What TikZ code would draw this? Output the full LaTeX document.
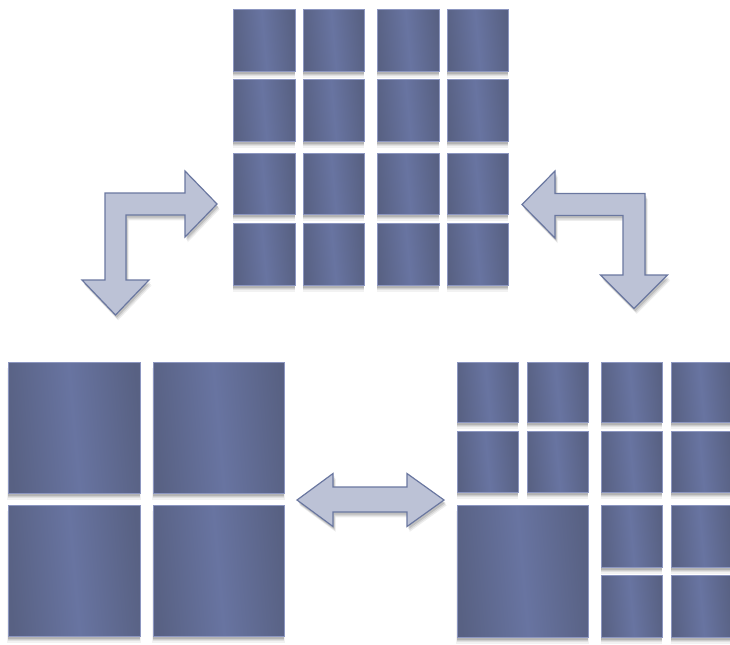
\documentclass[tikz,border=0pt]{standalone}
\usetikzlibrary{shadows}
\definecolor{tdark}{RGB}{88,97,131}
\definecolor{tlight}{RGB}{104,116,161}
\definecolor{tborder}{RGB}{140,150,192}
\definecolor{afill}{RGB}{188,194,214}
\definecolor{aline}{RGB}{106,119,160}
\tikzset{
  softshadow/.style={
    drop shadow={shadow xshift=0pt, shadow yshift=-5pt, shadow scale=1.01, opacity=0.05, fill=black},
    drop shadow={shadow xshift=0pt, shadow yshift=-4pt, opacity=0.07, fill=black},
    drop shadow={shadow xshift=0pt, shadow yshift=-3pt, opacity=0.09, fill=black},
    drop shadow={shadow xshift=0pt, shadow yshift=-2pt, opacity=0.12, fill=black}},
  tile/.style={rectangle, inner sep=0pt, outer sep=0pt, draw=tborder, line width=0.4pt,
    left color=tdark, right color=tdark, middle color=tlight, shading angle=95,
    softshadow},
  blockarrow/.style={fill=afill, draw=aline, line width=0.9pt, line join=miter,
    drop shadow={shadow xshift=2pt, shadow yshift=-4pt, opacity=0.07, fill=black},
    drop shadow={shadow xshift=1.5pt, shadow yshift=-3pt, opacity=0.09, fill=black},
    drop shadow={shadow xshift=1pt, shadow yshift=-2pt, opacity=0.12, fill=black}}
}
\newcommand\tile[5]{\node[tile, minimum width={(#4-#2)*0.75pt}, minimum height={(#5-#3)*0.75pt}] (#1) at ({(#2+#4)/2},{(#3+#5)/2}) {};}
\begin{document}
\begin{tikzpicture}[x=0.75pt, y=-0.75pt]
\useasboundingbox (0,0) rectangle (730,644);
\clip (0,0) rectangle (730,644);
% top 4x4 grid
\tile{t11}{233}{9}{295}{71}
\tile{t12}{303}{9}{364}{71}
\tile{t13}{377}{9}{439}{71}
\tile{t14}{447}{9}{508}{71}
\tile{t21}{233}{79}{295}{141}
\tile{t22}{303}{79}{364}{141}
\tile{t23}{377}{79}{439}{141}
\tile{t24}{447}{79}{508}{141}
\tile{t31}{233}{153}{295}{214}
\tile{t32}{303}{153}{364}{214}
\tile{t33}{377}{153}{439}{214}
\tile{t34}{447}{153}{508}{214}
\tile{t41}{233}{223}{295}{285}
\tile{t42}{303}{223}{364}{285}
\tile{t43}{377}{223}{439}{285}
\tile{t44}{447}{223}{508}{285}
% bottom-left 2x2 grid
\tile{l11}{8}{362}{140}{493}
\tile{l12}{153}{362}{284}{493}
\tile{l21}{8}{505}{140}{636}
\tile{l22}{153}{505}{284}{636}
% bottom-right mixed grid
\tile{r11}{457}{362}{518}{422}
\tile{r12}{527}{362}{588}{422}
\tile{r13}{601}{362}{662}{422}
\tile{r14}{671}{362}{732}{422}
\tile{r21}{457}{431}{518}{492}
\tile{r22}{527}{431}{588}{492}
\tile{r23}{601}{431}{662}{492}
\tile{r24}{671}{431}{732}{492}
\tile{rbig}{457}{505}{588}{637}
\tile{r33}{601}{505}{662}{567}
\tile{r34}{671}{505}{732}{567}
\tile{r43}{601}{575}{662}{637}
\tile{r44}{671}{575}{732}{637}
% left bent arrow
\draw[blockarrow] (105,280) -- (105,193) -- (185,193) -- (185,171) -- (217,204)
  -- (185,237) -- (185,215) -- (126,215) -- (126,280) -- (149,280) -- (115.5,315)
  -- (82,280) -- cycle;
% right bent arrow
\draw[blockarrow] (522,204.5) -- (555,171) -- (555,193.5) -- (645,193.5) -- (645,275)
  -- (667.5,275) -- (634,308.5) -- (600.5,275) -- (623,275) -- (623,215.5)
  -- (555,215.5) -- (555,238) -- cycle;
% double arrow
\draw[blockarrow] (297,500) -- (333,473.5) -- (333,487) -- (407,487) -- (407,473.5)
  -- (444,500) -- (407,526.5) -- (407,512) -- (333,512) -- (333,526.5) -- cycle;
\end{tikzpicture}
\end{document}
